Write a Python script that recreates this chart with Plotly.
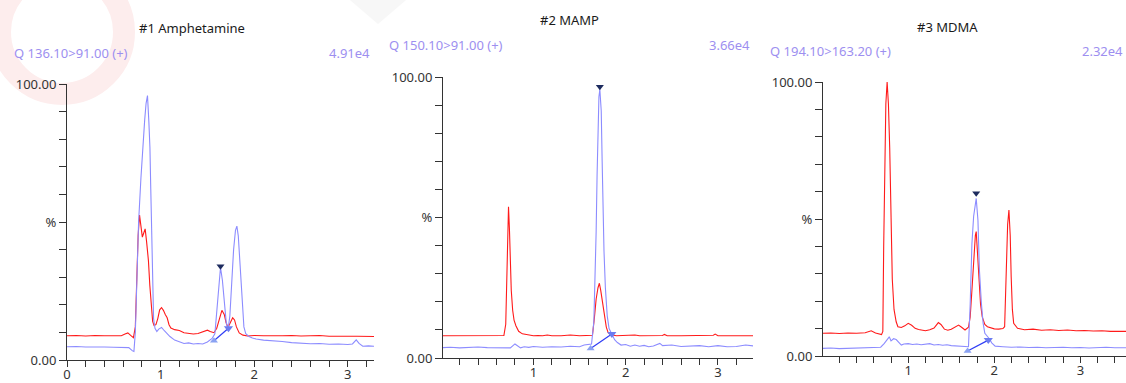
import plotly.graph_objects as go

W, H = 1126, 383

# ---------------- data: retention time (min) vs relative intensity (%) ----------------
# #1 Amphetamine
amp_red_t = [0.00, 0.10, 0.20, 0.30, 0.40, 0.50, 0.58, 0.62, 0.65, 0.68, 0.71, 0.73, 0.745, 0.76,
             0.775, 0.79, 0.805, 0.82, 0.835, 0.85, 0.87, 0.885, 0.90, 0.915, 0.93, 0.95, 0.97, 0.99,
             1.01, 1.03, 1.05, 1.07, 1.09, 1.11, 1.15, 1.20, 1.25, 1.30, 1.35, 1.40, 1.45, 1.50, 1.53,
             1.57, 1.60, 1.63, 1.655, 1.68, 1.70, 1.72, 1.745, 1.77, 1.79, 1.81, 1.84, 1.88, 1.93, 2.00,
             2.10, 2.20, 2.30, 2.40, 2.50, 2.60, 2.70, 2.80, 2.90, 3.00, 3.10, 3.20, 3.28]
amp_red_v = [8.8, 8.9, 8.7, 8.9, 8.8, 8.9, 8.8, 9.4, 9.8, 8.9, 8.1, 12.0, 28.0, 45.0,
             52.5, 48.0, 44.5, 46.0, 47.5, 43.0, 36.0, 27.0, 19.5, 14.0, 12.5, 12.8, 15.0, 18.2,
             19.0, 18.0, 16.5, 15.3, 12.8, 11.6, 11.0, 10.7, 9.9, 9.6, 9.4, 9.6, 10.2, 10.8, 10.3,
             9.9, 11.5, 15.5, 18.0, 16.5, 13.5, 11.8, 13.5, 15.3, 14.5, 12.0, 9.8, 9.0, 8.7, 8.9,
             8.8, 8.7, 8.8, 8.9, 8.7, 8.8, 8.9, 8.6, 8.7, 8.6, 8.6, 8.5, 8.5]
amp_blue_t = [0.00, 0.10, 0.20, 0.30, 0.40, 0.50, 0.60, 0.66, 0.70, 0.715, 0.73, 0.745, 0.765, 0.79,
              0.81, 0.83, 0.845, 0.86, 0.875, 0.886, 0.895, 0.905, 0.915, 0.925, 0.94, 0.96, 0.98,
              1.01, 1.04, 1.07, 1.10, 1.15, 1.20, 1.25, 1.30, 1.35, 1.40, 1.45, 1.50, 1.55, 1.58,
              1.60, 1.62, 1.64, 1.66, 1.68, 1.70, 1.72, 1.74, 1.76, 1.78, 1.80, 1.815, 1.83, 1.845,
              1.86, 1.875, 1.89, 1.91, 1.94, 1.98, 2.02, 2.10, 2.20, 2.30, 2.40, 2.50, 2.60, 2.70,
              2.80, 2.90, 3.00, 3.05, 3.09, 3.12, 3.16, 3.22, 3.28]
amp_blue_v = [4.8, 4.9, 4.7, 4.8, 4.7, 4.6, 4.7, 4.5, 3.3, 3.1, 10.0, 30.0, 50.0, 66.0,
              78.0, 87.0, 93.0, 95.8, 86.0, 77.0, 62.0, 44.0, 26.0, 15.0, 11.5, 10.3, 11.2,
              11.8, 10.6, 9.4, 8.5, 7.2, 6.6, 6.0, 6.2, 5.8, 6.0, 5.8, 6.5, 7.8, 9.5,
              18.0, 28.0, 33.5, 29.0, 22.0, 14.0, 10.8, 16.0, 28.0, 40.0, 47.0, 48.5, 45.0, 36.0,
              27.0, 18.0, 12.0, 9.5, 8.6, 8.0, 7.6, 7.2, 7.0, 6.7, 6.3, 6.1, 5.9, 6.0,
              5.7, 5.8, 5.6, 5.8, 7.3, 6.0, 5.0, 5.1, 5.0]
amp_peak_t = [1.57, 1.64, 1.725]      # start, apex, end
amp_peak_v = [7.0, 34.0, 11.5]

# #2 MAMP
mamp_red_t = [0.02, 0.10, 0.20, 0.30, 0.40, 0.50, 0.60, 0.68, 0.70, 0.71, 0.72, 0.73, 0.74, 0.75,
              0.76, 0.775, 0.79, 0.81, 0.84, 0.88, 0.92, 0.96, 1.00, 1.05, 1.10, 1.15, 1.20, 1.30,
              1.40, 1.50, 1.60, 1.64, 1.66, 1.68, 1.70, 1.715, 1.73, 1.75, 1.77, 1.79, 1.81, 1.84,
              1.90, 2.00, 2.10, 2.15, 2.30, 2.40, 2.42, 2.45, 2.60, 2.80, 2.95, 2.97, 3.00, 3.20, 3.38]
mamp_red_v = [7.9, 7.9, 8.0, 7.9, 7.9, 8.0, 7.9, 8.0, 12.0, 25.0, 45.0, 53.8, 46.0, 35.0,
              24.0, 17.0, 13.5, 11.5, 9.5, 8.6, 8.4, 8.1, 7.9, 8.0, 7.9, 8.2, 7.9, 7.9,
              8.2, 7.9, 8.0, 8.1, 14.0, 21.0, 25.0, 26.6, 24.0, 20.0, 15.0, 11.0, 9.0, 8.3,
              7.9, 8.0, 8.2, 7.9, 7.9, 8.0, 8.4, 7.9, 7.9, 8.0, 8.1, 8.5, 7.9, 7.9, 7.9]
mamp_blue_t = [0.02, 0.10, 0.20, 0.30, 0.40, 0.50, 0.60, 0.70, 0.75, 0.80, 0.83, 0.86, 0.90, 0.95,
               1.00, 1.10, 1.20, 1.30, 1.40, 1.50, 1.55, 1.60, 1.63, 1.655, 1.67, 1.68, 1.69, 1.70,
               1.71, 1.72, 1.735, 1.745, 1.755, 1.765, 1.78, 1.80, 1.82, 1.85, 1.88, 1.91, 1.95,
               2.00, 2.05, 2.10, 2.15, 2.20, 2.25, 2.30, 2.37, 2.40, 2.50, 2.60, 2.70, 2.80, 2.90,
               3.00, 3.10, 3.20, 3.30, 3.38]
mamp_blue_v = [3.7, 3.8, 3.6, 3.7, 3.9, 3.7, 3.6, 3.4, 3.6, 5.0, 4.4, 3.6, 4.0, 3.8,
               4.1, 3.8, 4.0, 3.9, 4.2, 4.0, 4.6, 4.8, 5.0, 13.0, 30.0, 45.0, 65.0, 82.0,
               93.0, 95.5, 88.0, 70.0, 52.0, 38.0, 25.0, 15.0, 10.5, 8.5, 6.5, 5.5, 4.6,
               4.8, 4.2, 4.6, 4.2, 4.5, 4.0, 4.3, 5.2, 4.4, 4.6, 4.1, 4.2, 4.4, 4.0,
               4.4, 4.0, 4.1, 4.6, 4.3]
mamp_peak_t = [1.62, 1.72, 1.85]
mamp_peak_v = [3.4, 96.5, 8.5]

# #3 MDMA
mdma_red_t = [0.01, 0.10, 0.20, 0.30, 0.40, 0.50, 0.57, 0.62, 0.69, 0.705, 0.715, 0.725, 0.74, 0.755,
              0.77, 0.785, 0.80, 0.815, 0.835, 0.86, 0.88, 0.92, 0.96, 1.00, 1.04, 1.08, 1.12, 1.16,
              1.20, 1.25, 1.30, 1.35, 1.38, 1.42, 1.46, 1.50, 1.55, 1.585, 1.62, 1.66, 1.70, 1.72,
              1.74, 1.76, 1.78, 1.79, 1.805, 1.82, 1.84, 1.86, 1.89, 1.92, 1.96, 2.00, 2.05, 2.10,
              2.12, 2.13, 2.14, 2.155, 2.17, 2.185, 2.196, 2.21, 2.225, 2.27, 2.35, 2.45, 2.55, 2.65,
              2.75, 2.85, 2.95, 3.05, 3.15, 3.25, 3.35, 3.45, 3.53]
mdma_red_v = [8.3, 8.4, 8.2, 8.4, 8.3, 8.5, 9.2, 8.4, 7.8, 9.0, 40.0, 70.0, 92.0, 100.0,
              92.0, 76.0, 45.0, 28.0, 17.0, 12.5, 10.7, 10.4, 11.0, 11.9, 11.2, 10.1, 9.7, 9.5,
              9.2, 9.6, 10.2, 12.2, 11.5, 9.8, 9.4, 9.8, 10.8, 11.3, 10.5, 9.5, 10.5, 14.3,
              24.0, 36.0, 44.0, 45.4, 38.0, 26.5, 19.0, 14.3, 11.5, 10.7, 10.2, 9.9, 9.8, 10.0,
              10.7, 22.0, 38.7, 48.0, 53.3, 44.0, 29.0, 17.0, 11.9, 10.1, 9.6, 9.8, 9.4, 9.6,
              9.3, 9.5, 9.2, 9.3, 9.1, 9.2, 9.0, 9.1, 9.0]
mdma_blue_t = [0.01, 0.10, 0.20, 0.30, 0.40, 0.50, 0.60, 0.68, 0.72, 0.76, 0.78, 0.80, 0.83, 0.86,
               0.89, 0.92, 0.95, 1.00, 1.05, 1.10, 1.15, 1.20, 1.25, 1.30, 1.35, 1.40, 1.45, 1.50,
               1.55, 1.60, 1.65, 1.70, 1.72, 1.74, 1.76, 1.78, 1.79, 1.81, 1.827, 1.85, 1.87, 1.89,
               1.94, 1.97, 2.01, 2.10, 2.20, 2.30, 2.40, 2.50, 2.60, 2.70, 2.80, 2.90, 3.00, 3.10,
               3.20, 3.30, 3.40, 3.53]
mdma_blue_v = [2.8, 2.9, 2.7, 2.8, 2.9, 2.8, 3.0, 3.2, 4.5, 6.2, 7.0, 5.5, 6.3, 6.0,
               4.8, 4.0, 4.4, 4.5, 4.2, 4.4, 4.1, 4.4, 4.5, 4.0, 4.2, 3.9, 4.1, 3.8,
               3.7, 3.5, 3.3, 3.4, 19.0, 41.0, 51.0, 56.0, 57.5, 49.6, 31.4, 19.2, 12.0, 8.3,
               6.4, 4.8, 3.6, 3.4, 3.2, 3.3, 3.1, 3.2, 3.0, 3.1, 3.2, 3.0, 3.1, 2.9,
               3.0, 3.2, 3.0, 3.0]
mdma_peak_t = [1.69, 1.79, 1.93]
mdma_peak_v = [1.8, 59.4, 5.8]

titles = ["#1 Amphetamine", "#2 MAMP", "#3 MDMA"]
transitions = ["Q 136.10>91.00 (+)", "Q 150.10>91.00 (+)", "Q 194.10>163.20 (+)"]
intensities = ["4.91e4", "3.66e4", "2.32e4"]

# ---------------- styling / layout (pixel-based) ----------------
RED = "#ff1a1a"
BLUE = "#8c8cff"
LAV = "#9d8ff0"
AX = "#333333"
FONT = "Noto Sans"

def px_x(p):
    return p / W

def px_y(p):
    return 1 - p / H

# panel boxes: (left, right, top, bottom) in pixels, x-range
panels = [
    dict(box=(67, 374, 84, 360), xr=[0.0, 3.28], xlabels={0: "0", 1: "1", 2: "2", 3: "3"},
         red=(amp_red_t, amp_red_v), blue=(amp_blue_t, amp_blue_v), peak=(amp_peak_t, amp_peak_v),
         title_xy=(192, 28), q_xy=(12, 53), i_xy=(372, 53)),
    dict(box=(443, 753, 77, 358), xr=[0.02, 3.38], xlabels={1: "1", 2: "2", 3: "3"},
         red=(mamp_red_t, mamp_red_v), blue=(mamp_blue_t, mamp_blue_v), peak=(mamp_peak_t, mamp_peak_v),
         title_xy=(569, 20), q_xy=(387, 45), i_xy=(752, 45)),
    dict(box=(823, 1126, 82, 356), xr=[0.01, 3.53], xlabels={1: "1", 2: "2", 3: "3"},
         red=(mdma_red_t, mdma_red_v), blue=(mdma_blue_t, mdma_blue_v), peak=(mdma_peak_t, mdma_peak_v),
         title_xy=(947, 27), q_xy=(768, 51), i_xy=(1125, 51)),
]

fig = go.Figure()
annotations = []
shapes = []

# faint logo watermark in the top-left corner and a light grey diamond tip
shapes.append(dict(type="circle", xref="paper", yref="paper", layer="below",
                   x0=px_x(62 - 62), x1=px_x(62 + 62), y0=px_y(32 + 62), y1=px_y(32 - 62),
                   line=dict(color="#fdeded", width=22), fillcolor="rgba(0,0,0,0)"))
shapes.append(dict(type="path", xref="paper", yref="paper", layer="below",
                   path=f"M {px_x(350)} {px_y(0)} L {px_x(378)} {px_y(24)} L {px_x(406)} {px_y(0)} Z",
                   line=dict(width=0), fillcolor="#f7f7f7"))

for i, p in enumerate(panels):
    n = "" if i == 0 else str(i + 1)
    xa, ya = "x" + n, "y" + n
    l, r, t, b = p["box"]
    tick_x = [round(k * 0.2, 1) for k in range(0, 18)]
    tick_x = [v for v in tick_x if p["xr"][0] <= v <= p["xr"][1]]
    tick_xt = [p["xlabels"].get(int(v), "") if float(v).is_integer() else "" for v in tick_x]
    tick_y = list(range(0, 101, 10))
    tick_yt = ["0.00" if v == 0 else "%" if v == 50 else "100.00" if v == 100 else "" for v in tick_y]

    fig.update_layout(**{
        "xaxis" + n: dict(domain=[px_x(l), px_x(r)], range=p["xr"], anchor=ya, automargin=False,
                          showline=True, linecolor=AX, linewidth=1, ticks="outside", ticklen=6,
                          tickcolor=AX, tickwidth=1, tickvals=tick_x, ticktext=tick_xt,
                          ticklabelstandoff=-4,
                          showgrid=False, zeroline=False, tickfont=dict(family=FONT, size=13, color=AX)),
        "yaxis" + n: dict(domain=[px_y(b), px_y(t)], range=[0, 100], anchor=xa, automargin=False,
                          showline=True, linecolor=AX, linewidth=1, ticks="outside", ticklen=7,
                          tickcolor=AX, tickwidth=1, tickvals=tick_y, ticktext=tick_yt,
                          showgrid=False, zeroline=False, tickfont=dict(family=FONT, size=13, color=AX)),
    })

    rt, rv = p["red"]
    bt, bv = p["blue"]
    pt, pv = p["peak"]
    fig.add_trace(go.Scatter(x=rt, y=rv, mode="lines", line=dict(color=RED, width=1.1),
                             xaxis=xa, yaxis=ya, showlegend=False, hoverinfo="skip"))
    fig.add_trace(go.Scatter(x=bt, y=bv, mode="lines", line=dict(color=BLUE, width=1.1),
                             xaxis=xa, yaxis=ya, showlegend=False, hoverinfo="skip"))
    # integration baseline between peak start and end
    fig.add_trace(go.Scatter(x=[pt[0], pt[2]], y=[pv[0], pv[2]], mode="lines",
                             line=dict(color="#2f3cf5", width=1.2),
                             xaxis=xa, yaxis=ya, showlegend=False, hoverinfo="skip"))
    fig.add_trace(go.Scatter(x=[pt[0]], y=[pv[0]], mode="markers",
                             marker=dict(symbol="triangle-up", size=7, color="#8aa2f2"),
                             xaxis=xa, yaxis=ya, showlegend=False, hoverinfo="skip"))
    fig.add_trace(go.Scatter(x=[pt[2]], y=[pv[2]], mode="markers",
                             marker=dict(symbol="triangle-down", size=8, color="#6c7cf0"),
                             xaxis=xa, yaxis=ya, showlegend=False, hoverinfo="skip"))
    fig.add_trace(go.Scatter(x=[pt[1]], y=[pv[1]], mode="markers",
                             marker=dict(symbol="triangle-down", size=7, color="#1d2b5e"),
                             xaxis=xa, yaxis=ya, showlegend=False, hoverinfo="skip"))

    tx, ty = p["title_xy"]
    annotations.append(dict(text=titles[i], x=px_x(tx), y=px_y(ty), xref="paper", yref="paper",
                            xanchor="center", yanchor="middle", showarrow=False,
                            font=dict(family=FONT, size=13, color="#1a1a1a")))
    qx, qy = p["q_xy"]
    annotations.append(dict(text=transitions[i], x=px_x(qx), y=px_y(qy), xref="paper", yref="paper",
                            xanchor="left", yanchor="middle", showarrow=False,
                            font=dict(family=FONT, size=13, color=LAV)))
    ix, iy = p["i_xy"]
    annotations.append(dict(text=intensities[i], x=px_x(ix), y=px_y(iy), xref="paper", yref="paper",
                            xanchor="right", yanchor="middle", showarrow=False,
                            font=dict(family=FONT, size=13, color=LAV)))

fig.update_layout(width=W, height=H, margin=dict(l=0, r=0, t=0, b=0, pad=0),
                  paper_bgcolor="white", plot_bgcolor="white",
                  annotations=annotations, shapes=shapes, showlegend=False)

fig.write_html("out.html", config={"displayModeBar": False})
